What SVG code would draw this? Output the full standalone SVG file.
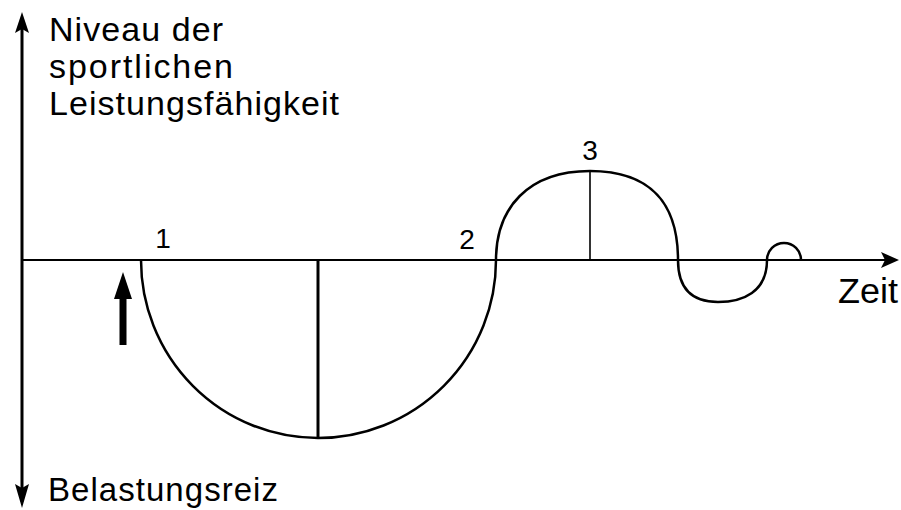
<svg xmlns="http://www.w3.org/2000/svg" width="901" height="510" viewBox="0 0 901 510">
<style>
.ln{fill:none;stroke:#000;stroke-linecap:butt}
.txt{font-family:"Liberation Sans",Arial,Helvetica,sans-serif;fill:#000}
.head{fill:#000;stroke:none}
</style>
<rect width="901" height="510" fill="#fff"/>
<g id="axes">
<line class="ln" x1="22" y1="26" x2="22" y2="494" stroke-width="3"/>
<polygon class="head" points="22,12 29,33 22,29 15,33"/>
<polygon class="head" points="22,508 29,484 22,488 15,484"/>
<line class="ln" x1="22" y1="260" x2="886" y2="260" stroke-width="2"/>
<polygon class="head" points="899,260 881,252 885,260 881,268"/>
</g>
<g id="curve">
<path class="ln" stroke-width="2.5" d="M141,260 A177,178 0 0 0 318,438 A178,178 0 0 0 496,260 C496,208 528,171 590,171 C652,171 678,205 678,260 C678,290 693,302 718,302 C743,302 767,292 767,260 A17,17 0 0 1 801,260"/>
<line class="ln" x1="318" y1="260" x2="318" y2="438" stroke-width="3"/>
<line class="ln" x1="590" y1="171" x2="590" y2="260" stroke-width="1.6"/>
</g>
<g id="stimulus-arrow">
<rect class="head" x="119.5" y="294" width="7" height="51"/>
<polygon class="head" points="123,272 132,299 114,299"/>
</g>
<g id="labels">
<text class="txt" x="49" y="41" font-size="34" textLength="174" lengthAdjust="spacing">Niveau der</text>
<text class="txt" x="49" y="78" font-size="34" textLength="184" lengthAdjust="spacing">sportlichen</text>
<text class="txt" x="49" y="115" font-size="34" textLength="290" lengthAdjust="spacing">Leistungsfähigkeit</text>
<text class="txt" x="48" y="501" font-size="33" textLength="230" lengthAdjust="spacing">Belastungsreiz</text>
<text class="txt" x="838" y="303" font-size="35" textLength="60" lengthAdjust="spacingAndGlyphs">Zeit</text>
<text class="txt" x="163" y="248" font-size="28" text-anchor="middle">1</text>
<text class="txt" x="467" y="249" font-size="28" text-anchor="middle">2</text>
<text class="txt" x="590" y="160" font-size="28" text-anchor="middle">3</text>
</g>
</svg>
